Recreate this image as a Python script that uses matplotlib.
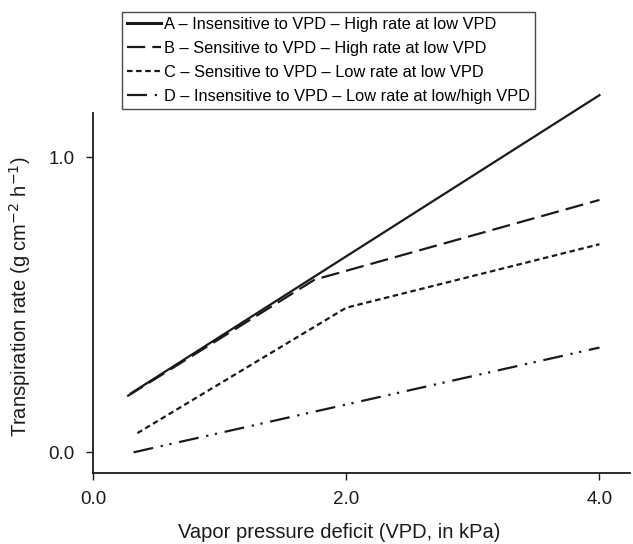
import numpy as np
from matplotlib import pyplot as plt

plt.rcParams['font.family'] = ['Liberation Sans', 'DejaVu Sans']

# data (VPD in kPa, transpiration rate)
xA = [0.30, 4.00]
yA = [0.20, 1.21]
xB = [0.27, 1.75, 4.00]
yB = [0.19, 0.585, 0.855]
xC = [0.35, 2.00, 4.00]
yC = [0.065, 0.49, 0.705]
xD = [0.32, 4.00]
yD = [0.00, 0.355]

labels = [
    "A \u2013 Insensitive to VPD \u2013 High rate at low VPD",
    "B \u2013 Sensitive to VPD \u2013 High rate at low VPD",
    "C \u2013 Sensitive to VPD \u2013 Low rate at low VPD",
    "D \u2013 Insensitive to VPD \u2013 Low rate at low/high VPD",
]
xticks = [0.0, 2.0, 4.0]
yticks = [0.0, 1.0]

fig = plt.figure( figsize=(6.33, 5.44), dpi=100 )
ax = fig.add_axes( [0.147, 0.1305, 0.848, 0.662] )

c = '#1a1a1a'
lw = 1.6
lA, = ax.plot( xA, yA, c=c, lw=lw, ls='-', clip_on=False )
lB, = ax.plot( xB, yB, c=c, lw=lw, ls=(0, (8.2, 3.2)), clip_on=False )
lC, = ax.plot( xC, yC, c=c, lw=lw, ls=(0, (2.5, 1.6)), clip_on=False )
lD, = ax.plot( xD, yD, c=c, lw=lw, ls=(0, (9, 3.5, 1, 3, 1, 3.5)), clip_on=False )

ax.set_xlim( 0, 4.24 )
ax.set_ylim( -0.07, 1.15 )
ax.set_xticks( xticks )
ax.set_yticks( yticks )
ax.set_xticklabels( [f"{t:.1f}" for t in xticks] )
ax.set_yticklabels( [f"{t:.1f}" for t in yticks] )
for s in ['top', 'right']:
    ax.spines[s].set_visible( False )
for s in ['left', 'bottom']:
    ax.spines[s].set_linewidth( 1.3 )
    ax.spines[s].set_color( c )
ax.tick_params( direction='out', length=5, width=1.0, labelsize=13.5, colors=c, pad=8 )

# x label sits centred under the 2.0 tick in the reference
fig.text( 339/633, 1 - 538/544, "Vapor pressure deficit (VPD, in kPa)",
          fontsize=14.5, ha='center', va='baseline', color=c )
ax.set_ylabel( r"Transpiration rate (g cm$^{-2}$ h$^{-1}$)", fontsize=14.5, color=c )
ax.yaxis.set_label_coords( -0.112, 0.49 )

leg = fig.legend( [lA, lB, lC, lD], labels, loc='upper left',
                  bbox_to_anchor=(122/633, 1 - 12/544), fontsize=11.8,
                  frameon=True, fancybox=False, handlelength=2.1, handletextpad=0.15,
                  labelspacing=0.55, borderpad=0.3, borderaxespad=0 )
leg.get_frame().set_edgecolor( c )
leg.get_frame().set_linewidth( 1.0 )
leg.get_lines()[0].set_linewidth( 2.2 )

fig.savefig( "out.png", dpi=100 )
